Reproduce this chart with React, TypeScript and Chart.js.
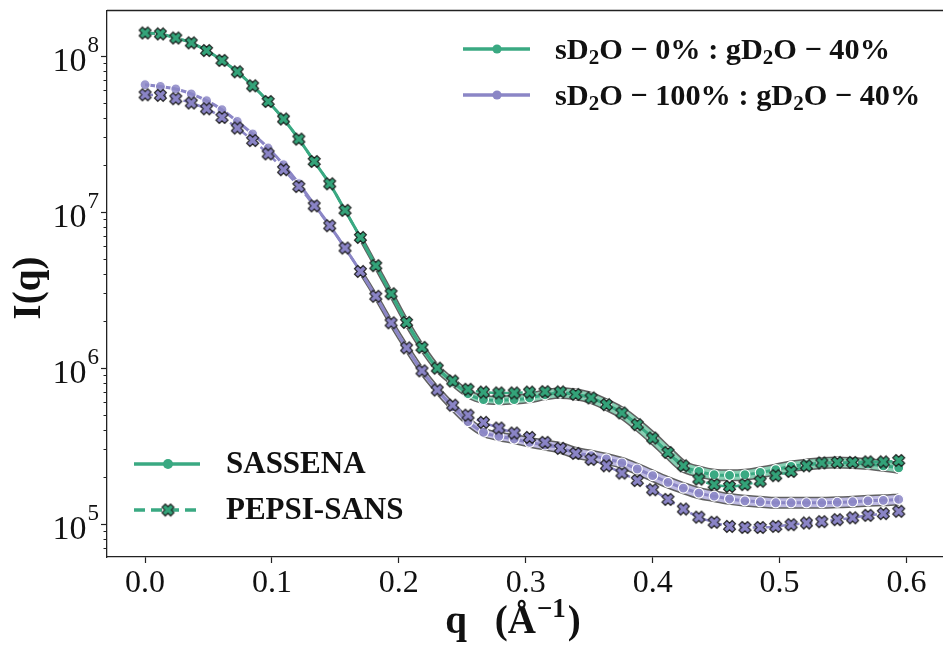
import React, { useEffect, useRef } from 'react';
import { Chart, registerables } from 'chart.js';

Chart.register(...registerables);

// ---------------- data ----------------
const Q = [
  0, 0.0121, 0.0242, 0.0364, 0.0485, 0.0606, 0.0727, 0.0848, 0.097, 0.1091,
  0.1212, 0.1333, 0.1455, 0.1576, 0.1697, 0.1818, 0.1939, 0.2061, 0.2182, 0.2303,
  0.2424, 0.2545, 0.2667, 0.2788, 0.2909, 0.303, 0.3152, 0.3273, 0.3394, 0.3515,
  0.3636, 0.3758, 0.3879, 0.4, 0.4121, 0.4242, 0.4364, 0.4485, 0.4606, 0.4727,
  0.4848, 0.497, 0.5091, 0.5212, 0.5333, 0.5455, 0.5576, 0.5697, 0.5818, 0.5939,
];

// sD2O 0% : gD2O 40%
const GREEN_SASSENA = [
  1.40e8, 1.38e8, 1.30e8, 1.21e8, 1.08e8, 9.33e7, 7.89e7, 6.42e7, 5.09e7, 3.93e7,
  2.92e7, 2.10e7, 1.51e7, 1.02e7, 6.84e6, 4.51e6, 2.98e6, 1.95e6, 1.35e6, 9.93e5,
  8.10e5, 6.81e5, 6.24e5, 6.17e5, 6.24e5, 6.40e5, 6.71e5, 6.89e5, 6.74e5, 6.40e5,
  5.79e5, 5.13e5, 4.31e5, 3.54e5, 2.86e5, 2.33e5, 2.16e5, 2.06e5, 2.04e5, 2.06e5,
  2.13e5, 2.22e5, 2.33e5, 2.39e5, 2.45e5, 2.47e5, 2.45e5, 2.41e5, 2.35e5, 2.28e5,
];
const GREEN_PEPSI = [
  1.40e8, 1.38e8, 1.30e8, 1.21e8, 1.08e8, 9.33e7, 7.89e7, 6.42e7, 5.09e7, 3.93e7,
  2.92e7, 2.10e7, 1.51e7, 1.02e7, 6.84e6, 4.51e6, 2.98e6, 1.95e6, 1.35e6, 9.93e5,
  8.22e5, 7.27e5, 6.97e5, 6.89e5, 6.89e5, 6.97e5, 7.02e5, 6.99e5, 6.74e5, 6.40e5,
  5.79e5, 5.13e5, 4.31e5, 3.54e5, 2.86e5, 2.35e5, 1.93e5, 1.78e5, 1.73e5, 1.78e5,
  1.87e5, 2.03e5, 2.16e5, 2.35e5, 2.45e5, 2.47e5, 2.47e5, 2.49e5, 2.49e5, 2.54e5,
];
// sD2O 100% : gD2O 40%
const PURPLE_SASSENA = [
  6.52e7, 6.35e7, 6.12e7, 5.69e7, 5.15e7, 4.51e7, 3.79e7, 3.15e7, 2.56e7, 2.00e7,
  1.51e7, 1.11e7, 8.13e6, 5.85e6, 4.14e6, 2.87e6, 1.94e6, 1.34e6, 9.54e5, 7.19e5,
  5.62e5, 4.51e5, 3.85e5, 3.63e5, 3.49e5, 3.32e5, 3.19e5, 3.06e5, 2.84e5, 2.73e5,
  2.60e5, 2.45e5, 2.24e5, 2.03e5, 1.84e5, 1.69e5, 1.57e5, 1.50e5, 1.44e5, 1.40e5,
  1.38e5, 1.36e5, 1.36e5, 1.36e5, 1.36e5, 1.37e5, 1.38e5, 1.40e5, 1.41e5, 1.43e5,
];
const PURPLE_PEPSI = [
  5.62e7, 5.57e7, 5.30e7, 4.98e7, 4.57e7, 4.02e7, 3.44e7, 2.86e7, 2.35e7, 1.86e7,
  1.45e7, 1.09e7, 8.13e6, 5.85e6, 4.14e6, 2.87e6, 1.94e6, 1.34e6, 9.54e5, 7.19e5,
  5.75e5, 4.96e5, 4.46e5, 4.10e5, 3.81e5, 3.57e5, 3.32e5, 3.04e5, 2.82e5, 2.58e5,
  2.35e5, 2.11e5, 1.89e5, 1.65e5, 1.43e5, 1.24e5, 1.10e5, 1.02e5, 9.60e4, 9.45e4,
  9.45e4, 9.60e4, 9.85e4, 1.01e5, 1.03e5, 1.06e5, 1.09e5, 1.13e5, 1.16e5, 1.20e5,
];

const X_TICKS = [0, 0.1, 0.2, 0.3, 0.4, 0.5, 0.6];
const Y_MAJOR = [1e5, 1e6, 1e7, 1e8];
const Y_MINOR_MULT = [2, 3, 4, 5, 6, 7, 8, 9];
const SERIES_LABELS = ['sD₂O − 0% : gD₂O − 40%', 'sD₂O − 100% : gD₂O − 40%'];
const METHOD_LABELS = ['SASSENA', 'PEPSI-SANS'];
const X_TITLE = ['q', '(Å', '−1', ')'];
const Y_TITLE = 'I(q)';

// ---------------- style ----------------
const SERIF = '"Liberation Serif", "Times New Roman", serif';
const AXIS = '#222222';
const TEXT = '#111111';
const GREEN = '#3aa982';
const PURPLE = '#8b86c6';
const GREEN_X = '#33a379';
const PURPLE_X = '#8a84c6';
const GREEN_BAND = '#88cfb3';
const PURPLE_BAND = '#bebae2';
const BAND_EDGE = 'rgba(80,80,80,0.9)';
const X_MIN = -0.03;
const X_MAX = 0.63;
const Y_MIN = 6.11e4;
const Y_MAX = 1.95e8;
const CANVAS_W = 955;
const CANVAS_H = 649;

function makeX(fill: string, size = 15): HTMLCanvasElement {
  const c = document.createElement('canvas');
  c.width = size;
  c.height = size;
  const ctx = c.getContext('2d')!;
  ctx.translate(size / 2, size / 2);
  ctx.rotate(Math.PI / 4);
  const L = size / 2 - 1.4;
  const w = L * 0.38;
  ctx.beginPath();
  ctx.moveTo(-w, -L); ctx.lineTo(w, -L); ctx.lineTo(w, -w); ctx.lineTo(L, -w);
  ctx.lineTo(L, w); ctx.lineTo(w, w); ctx.lineTo(w, L); ctx.lineTo(-w, L);
  ctx.lineTo(-w, w); ctx.lineTo(-L, w); ctx.lineTo(-L, -w); ctx.lineTo(-w, -w);
  ctx.closePath();
  ctx.fillStyle = fill;
  ctx.fill();
  ctx.lineWidth = 1.1;
  ctx.strokeStyle = '#1a1a1a';
  ctx.stroke();
  return c;
}

function drawRich(ctx: CanvasRenderingContext2D, text: string, x: number, y: number, size: number) {
  const parts = text.split('₂');
  ctx.textBaseline = 'middle';
  ctx.textAlign = 'left';
  let cx = x;
  parts.forEach((p, i) => {
    ctx.font = `bold ${size}px ${SERIF}`;
    ctx.fillText(p, cx, y);
    cx += ctx.measureText(p).width;
    if (i < parts.length - 1) {
      ctx.font = `bold ${Math.round(size * 0.7)}px ${SERIF}`;
      ctx.fillText('2', cx, y + size * 0.24);
      cx += ctx.measureText('2').width;
    }
  });
}

export default function App() {
  const ref = useRef<HTMLCanvasElement>(null);

  useEffect(() => {
    document.body.style.margin = '0';
    const canvas = ref.current!;
    const xGreen = makeX(GREEN_X);
    const xPurple = makeX(PURPLE_X);

    const yTicks: { value: number; major: boolean }[] = [];
    for (let e = 4; e <= 8; e++) {
      const base = Math.pow(10, e);
      if (base >= Y_MIN && base <= Y_MAX) yTicks.push({ value: base, major: true });
      for (const m of Y_MINOR_MULT) {
        const v = m * base;
        if (v >= Y_MIN && v <= Y_MAX) yTicks.push({ value: v, major: false });
      }
    }

    const pts = (vals: number[]) => vals.map((v, i) => ({ x: Q[i], y: v }));
    const inner = (q: number) => Math.max(2, Math.min(9, 2 + (q - 0.17) * 45));

    const band = (vals: number[], fill: string) => [
      {
        data: pts(vals), borderColor: BAND_EDGE, borderWidth: 4, pointRadius: 0, order: 30,
        cubicInterpolationMode: 'monotone',
        segment: {
          borderWidth: (c: any) => inner(c.p0.parsed.x) + 3,
          borderColor: (c: any) => (c.p0.parsed.x < 0.16 ? 'rgba(0,0,0,0)' : BAND_EDGE),
        },
      },
      {
        data: pts(vals), borderColor: fill, borderWidth: 4, pointRadius: 0, order: 29,
        cubicInterpolationMode: 'monotone',
        segment: { borderWidth: (c: any) => inner(c.p0.parsed.x) },
      },
    ];

    const overlay = {
      id: 'overlay',
      afterDraw(chart: any) {
        const { ctx, chartArea: ca, scales } = chart;
        const ys = scales.y;
        ctx.save();
        // frame top & right
        ctx.strokeStyle = AXIS;
        ctx.lineWidth = 1.3;
        ctx.beginPath();
        ctx.moveTo(ca.left, ca.top);
        ctx.lineTo(ca.right, ca.top);
        ctx.lineTo(ca.right, ca.bottom);
        ctx.stroke();
        // y ticks
        for (const t of yTicks) {
          const py = Math.round(ys.getPixelForValue(t.value)) + 0.5;
          const len = t.major ? 6 : 3.5;
          ctx.lineWidth = t.major ? 1.2 : 1;
          ctx.beginPath();
          ctx.moveTo(ca.left - len, py);
          ctx.lineTo(ca.left, py);
          ctx.stroke();
        }
        // y labels 10^n
        ctx.fillStyle = TEXT;
        ctx.textAlign = 'left';
        ctx.textBaseline = 'alphabetic';
        for (const v of Y_MAJOR) {
          const py = ys.getPixelForValue(v);
          const e = String(Math.round(Math.log10(v)));
          ctx.font = `23px ${SERIF}`;
          const sw = ctx.measureText(e).width;
          ctx.font = `34px ${SERIF}`;
          const bw = ctx.measureText('10').width;
          const right = ca.left - 8;
          ctx.fillText('10', right - sw - bw - 1, py + 15);
          ctx.font = `23px ${SERIF}`;
          ctx.fillText(e, right - sw, py - 4);
        }
        // axis titles
        ctx.fillStyle = TEXT;
        ctx.textBaseline = 'middle';
        const TS = 39;
        const SS = 27;
        ctx.font = `bold ${TS}px ${SERIF}`;
        const wq = ctx.measureText(X_TITLE[0]).width;
        const wA = ctx.measureText(X_TITLE[1]).width;
        const wC = ctx.measureText(X_TITLE[3]).width;
        ctx.font = `bold ${SS}px ${SERIF}`;
        const wS = ctx.measureText(X_TITLE[2]).width;
        const gap = 28;
        const total = wq + gap + wA + wS + 3 + wC;
        let tx = 513 - total / 2;
        const ty = 623;
        ctx.textAlign = 'left';
        ctx.font = `bold ${TS}px ${SERIF}`;
        ctx.fillText(X_TITLE[0], tx, ty);
        tx += wq + gap;
        ctx.fillText(X_TITLE[1], tx, ty);
        tx += wA;
        ctx.font = `bold ${SS}px ${SERIF}`;
        ctx.fillText(X_TITLE[2], tx + 1, ty - 13);
        tx += wS + 3;
        ctx.font = `bold ${TS}px ${SERIF}`;
        ctx.fillText(X_TITLE[3], tx, ty);

        ctx.save();
        ctx.translate(30, 288);
        ctx.rotate(-Math.PI / 2);
        ctx.textAlign = 'center';
        ctx.font = `bold ${TS}px ${SERIF}`;
        ctx.fillText(Y_TITLE, 0, 0);
        ctx.restore();

        // legend: series (top right)
        const legCol = [GREEN, PURPLE];
        const legY = [49, 95];
        SERIES_LABELS.forEach((lab, i) => {
          ctx.strokeStyle = legCol[i];
          ctx.lineWidth = 3.5;
          ctx.setLineDash([]);
          ctx.beginPath();
          ctx.moveTo(463, legY[i]);
          ctx.lineTo(530, legY[i]);
          ctx.stroke();
          ctx.fillStyle = legCol[i];
          ctx.beginPath();
          ctx.arc(497, legY[i], 4.6, 0, Math.PI * 2);
          ctx.fill();
          ctx.fillStyle = TEXT;
          drawRich(ctx, lab, 555, legY[i] + 2, 30.3);
        });
        // legend: methods (bottom left)
        const mY = [464, 510];
        METHOD_LABELS.forEach((lab, i) => {
          ctx.strokeStyle = GREEN;
          ctx.lineWidth = 3.5;
          ctx.setLineDash(i === 0 ? [] : [11, 6]);
          ctx.beginPath();
          ctx.moveTo(134, mY[i]);
          ctx.lineTo(200, mY[i]);
          ctx.stroke();
          ctx.setLineDash([]);
          if (i === 0) {
            ctx.fillStyle = GREEN;
            ctx.beginPath();
            ctx.arc(168, mY[i], 5, 0, Math.PI * 2);
            ctx.fill();
          } else {
            ctx.drawImage(xGreen, 168 - xGreen.width / 2, mY[i] - xGreen.height / 2);
          }
          ctx.fillStyle = TEXT;
          drawRich(ctx, lab, 226, mY[i] + 1, 31);
        });
        ctx.restore();
      },
    };

    const chart = new Chart(canvas, {
      type: 'line',
      data: {
        datasets: [
          ...band(GREEN_SASSENA, GREEN_BAND),
          ...band(PURPLE_SASSENA, PURPLE_BAND),
          {
            label: 'SASSENA ' + SERIES_LABELS[0], data: pts(GREEN_SASSENA), borderColor: GREEN, borderWidth: 3,
            pointRadius: 5, pointBackgroundColor: GREEN, pointBorderColor: '#ffffff', pointBorderWidth: 1.1,
            cubicInterpolationMode: 'monotone', order: 10,
          },
          {
            label: 'SASSENA ' + SERIES_LABELS[1], data: pts(PURPLE_SASSENA), borderColor: PURPLE, borderWidth: 3,
            pointRadius: 5, pointBackgroundColor: 'rgba(139,134,198,0.85)', pointBorderColor: '#ffffff', pointBorderWidth: 1.1,
            cubicInterpolationMode: 'monotone', order: 11,
          },
          {
            label: 'PEPSI-SANS ' + SERIES_LABELS[0], data: pts(GREEN_PEPSI), borderColor: GREEN, borderWidth: 2.5,
            borderDash: [8, 5], pointStyle: xGreen, pointRadius: 8,
            cubicInterpolationMode: 'monotone', order: 1,
          },
          {
            label: 'PEPSI-SANS ' + SERIES_LABELS[1], data: pts(PURPLE_PEPSI), borderColor: PURPLE, borderWidth: 2.5,
            borderDash: [8, 5], pointStyle: xPurple, pointRadius: 8,
            cubicInterpolationMode: 'monotone', order: 2,
          },
        ] as any,
      },
      options: {
        responsive: false,
        animation: false,
        devicePixelRatio: 1,
        layout: { padding: { left: 0, top: 9, right: 6, bottom: 0 } },
        plugins: { legend: { display: false }, tooltip: { enabled: false } },
        scales: {
          x: {
            type: 'linear', min: X_MIN, max: X_MAX,
            afterBuildTicks: (s: any) => { s.ticks = X_TICKS.map((v) => ({ value: v })); },
            afterFit: (s: any) => { s.height = 92; },
            grid: { display: true, drawOnChartArea: false, drawTicks: true, tickLength: 6, tickWidth: 1.2, tickColor: AXIS },
            border: { display: true, color: AXIS, width: 1.3 },
            ticks: {
              font: { family: SERIF, size: 32 }, color: TEXT, padding: 1, maxRotation: 0, autoSkip: false,
              callback: (v: any) => Number(v).toFixed(1),
            },
            title: { display: false },
          },
          y: {
            type: 'logarithmic', min: Y_MIN, max: Y_MAX,
            afterBuildTicks: (s: any) => { s.ticks = yTicks.map((t) => ({ value: t.value })); },
            afterFit: (s: any) => { s.width = 107; },
            grid: { display: true, drawOnChartArea: false, drawTicks: false },
            border: { display: true, color: AXIS, width: 1.3 },
            ticks: { display: false },
            title: { display: false },
          },
        },
      } as any,
      plugins: [overlay],
    });
    return () => chart.destroy();
  }, []);

  return (
    <div style={{ width: 943, height: 649, overflow: 'hidden', position: 'relative' }}>
      <canvas ref={ref} width={CANVAS_W} height={CANVAS_H} style={{ display: 'block', width: CANVAS_W, height: CANVAS_H }} />
    </div>
  );
}
